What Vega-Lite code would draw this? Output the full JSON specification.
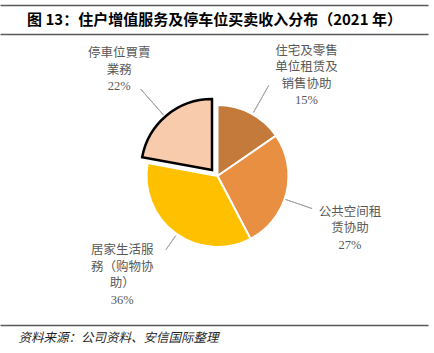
{
  "$schema": "https://vega.github.io/schema/vega-lite/v6.json",
  "width": 428,
  "height": 291,
  "autosize": {"type": "none"},
  "padding": {"left": 0, "top": 34, "right": 6, "bottom": 28},
  "background": "white",
  "config": {"view": {"stroke": null}},
  "data": {
    "values": [
      {"cat": "住宅及零售单位租赁及销售协助", "v": 15.4, "k": 1, "label": "住宅及零售\n单位租赁及\n销售协助\n15%"},
      {"cat": "公共空间租赁协助", "v": 26.9, "k": 2, "label": "公共空间租\n赁协助\n27%"},
      {"cat": "居家生活服務（购物协助）", "v": 35.6, "k": 3, "label": "居家生活服\n務（购物协\n助）\n36%"},
      {"cat": "停車位買賣業務", "v": 22.1, "k": 4, "label": "停車位買賣\n業務\n22%"}
    ]
  },
  "resolve": {"scale": {"x": "independent"}, "axis": {"x": "independent"}},
  "layer": [
    {
      "layer": [
        {
          "encoding": {
            "theta": {"field": "v", "type": "quantitative", "stack": true},
            "order": {"field": "k", "type": "quantitative"}
          },
          "layer": [
            {
              "mark": {"type": "arc", "outerRadius": 71, "stroke": "white", "strokeWidth": 2, "xOffset": 3.5, "yOffset": -3.5},
              "encoding": {
                "color": {"field": "cat", "type": "nominal", "legend": null,
                  "scale": {"domain": ["住宅及零售单位租赁及销售协助", "公共空间租赁协助", "居家生活服務（购物协助）", "停車位買賣業務"],
                            "range": ["#C47A3A", "#E88F42", "#FFC000", "#F8CBAD"]}},
                "opacity": {"condition": {"test": "datum.k == 4", "value": 0}, "value": 1}
              }
            },
            {
              "mark": {"type": "arc", "outerRadius": 71, "stroke": "black", "strokeWidth": 2.5, "xOffset": -2, "yOffset": -9.5},
              "encoding": {
                "color": {"field": "cat", "type": "nominal", "legend": null},
                "opacity": {"condition": {"test": "datum.k == 4", "value": 1}, "value": 0}
              }
            },
            {
              "mark": {"type": "text", "radius": 120, "dx": 36.7, "dy": -22.5, "align": "center", "baseline": "middle", "lineBreak": "\n", "lineHeight": 16.5, "font": "Liberation Serif, Noto Sans CJK SC", "fontSize": 12.5, "color": "#595959"},
              "encoding": {"text": {"condition": {"test": "datum.k == 1", "field": "label", "type": "nominal"}, "value": ""}}
            },
            {
              "mark": {"type": "text", "radius": 120, "dx": 19.5, "dy": 3.7, "align": "center", "baseline": "middle", "lineBreak": "\n", "lineHeight": 16.5, "font": "Liberation Serif, Noto Sans CJK SC", "fontSize": 12.5, "color": "#595959"},
              "encoding": {"text": {"condition": {"test": "datum.k == 2", "field": "label", "type": "nominal"}, "value": ""}}
            },
            {
              "mark": {"type": "text", "radius": 120, "dx": -20.6, "dy": -26.1, "align": "center", "baseline": "middle", "lineBreak": "\n", "lineHeight": 16.5, "font": "Liberation Serif, Noto Sans CJK SC", "fontSize": 12.5, "color": "#595959"},
              "encoding": {"text": {"condition": {"test": "datum.k == 3", "field": "label", "type": "nominal"}, "value": ""}}
            },
            {
              "mark": {"type": "text", "radius": 120, "dx": -18, "dy": -34.1, "align": "center", "baseline": "middle", "lineBreak": "\n", "lineHeight": 16.5, "font": "Liberation Serif, Noto Sans CJK SC", "fontSize": 12.5, "color": "#595959"},
              "encoding": {"text": {"condition": {"test": "datum.k == 4", "field": "label", "type": "nominal"}, "value": ""}}
            }
          ]
        },
        {
          "transform": [{"stack": "v", "groupby": [], "sort": [{"field": "k", "order": "ascending"}], "as": ["s0", "s1"]}, {"filter": "datum.k == 1"}],
          "mark": {"type": "arc", "filled": false, "innerRadius": 73, "outerRadius": 104, "thetaOffset": 0.5149, "theta2Offset": -0.4527, "stroke": "#A6A6A6", "strokeWidth": 1, "xOffset": 3.5, "yOffset": -3.5},
          "encoding": {"theta": {"field": "s0", "type": "quantitative"}, "theta2": {"field": "s1"}}
        },
        {
          "transform": [{"stack": "v", "groupby": [], "sort": [{"field": "k", "order": "ascending"}], "as": ["s0", "s1"]}, {"filter": "datum.k == 2"}],
          "mark": {"type": "arc", "filled": false, "innerRadius": 72, "outerRadius": 100, "thetaOffset": 0.9348, "theta2Offset": -0.7554, "stroke": "#A6A6A6", "strokeWidth": 1, "xOffset": 3.5, "yOffset": -3.5},
          "encoding": {"theta": {"field": "s0", "type": "quantitative"}, "theta2": {"field": "s1"}}
        },
        {
          "transform": [{"stack": "v", "groupby": [], "sort": [{"field": "k", "order": "ascending"}], "as": ["s0", "s1"]}, {"filter": "datum.k == 3"}],
          "mark": {"type": "arc", "filled": false, "innerRadius": 73, "outerRadius": 90, "thetaOffset": 1.0947, "theta2Offset": -1.1421, "stroke": "#A6A6A6", "strokeWidth": 1, "xOffset": 3.5, "yOffset": -3.5},
          "encoding": {"theta": {"field": "s0", "type": "quantitative"}, "theta2": {"field": "s1"}}
        },
        {
          "transform": [{"stack": "v", "groupby": [], "sort": [{"field": "k", "order": "ascending"}], "as": ["s0", "s1"]}, {"filter": "datum.k == 4"}],
          "mark": {"type": "arc", "filled": false, "innerRadius": 73, "outerRadius": 108, "thetaOffset": 0.6660, "theta2Offset": -0.7226, "stroke": "#A6A6A6", "strokeWidth": 1, "xOffset": -2, "yOffset": -9.5},
          "encoding": {"theta": {"field": "s0", "type": "quantitative"}, "theta2": {"field": "s1"}}
        }
      ]
    },
    {
      "data": {"values": [{}]},
      "mark": {"type": "point", "opacity": 0},
      "encoding": {
        "x": {"datum": 0, "type": "quantitative", "scale": {"domain": [0, 1]},
          "axis": {"orient": "top", "offset": 0, "domain": true, "domainColor": "#595959", "domainWidth": 1.5, "ticks": false, "labels": false, "grid": false,
            "title": "图 13：住户增值服务及停车位买卖收入分布（2021 年）", "titleFont": "Noto Sans CJK SC", "titleFontSize": 15, "titleFontWeight": "bold", "titleColor": "#000000", "titleY": -15, "titleBaseline": "middle"}}
      }
    },
    {
      "data": {"values": [{}]},
      "mark": {"type": "point", "opacity": 0},
      "encoding": {
        "x": {"datum": 0, "type": "quantitative", "scale": {"domain": [0, 1]},
          "axis": {"orient": "top", "offset": 29, "domain": true, "domainColor": "#595959", "domainWidth": 1.5, "ticks": false, "labels": false, "grid": false, "title": null}}
      }
    },
    {
      "data": {"values": [{}]},
      "mark": {"type": "point", "opacity": 0},
      "encoding": {
        "x": {"datum": 0, "type": "quantitative", "scale": {"domain": [0, 1]},
          "axis": {"orient": "bottom", "offset": 0, "domain": true, "domainColor": "#595959", "domainWidth": 1.5, "ticks": false, "labels": false, "grid": false,
            "title": "资料来源：公司资料、安信国际整理", "titleFont": "Noto Sans CJK SC", "titleFontSize": 12.5, "titleFontWeight": "normal", "titleFontStyle": "italic", "titleColor": "#262626", "titleAnchor": "start", "titleAlign": "left", "titleX": 18, "titleY": 12, "titleBaseline": "middle"}}
      }
    }
  ]
}
